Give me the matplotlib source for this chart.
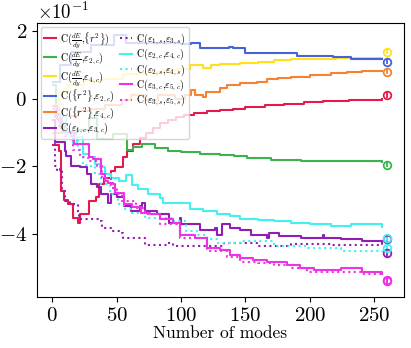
import matplotlib
matplotlib.use("Agg")
import matplotlib.pyplot as plt
import numpy as np

plt.rcParams['font.family'] = 'serif'
plt.rcParams['font.serif'] = ['cmr10', 'DejaVu Serif']
plt.rcParams['mathtext.fontset'] = 'cm'
plt.rcParams['axes.unicode_minus'] = False
plt.rcParams['axes.formatter.use_mathtext'] = True

SCALE = 0.1  # values below are read in units of 10^-1

red_x = [1,5,7,9,12,16,20,22,29,34,36,40,46,49,55,58,63,68,73,78,84,90,96,102,110,120,130,140,150,165,180,195,210,230,245,256]
red_y = [-1.38,-1.53,-2.73,-3.0,-3.1,-3.52,-3.67,-3.41,-3.02,-2.9,-2.52,-2.35,-2.13,-2.03,-1.73,-1.53,-1.35,-1.15,-1.0,-0.85,-0.72,-0.62,-0.55,-0.48,-0.42,-0.37,-0.33,-0.29,-0.25,-0.19,-0.14,-0.1,-0.07,-0.04,-0.02,0.0]

green_x = [1,3,6,10,14,19,25,29,35,38,44,47,58,63,70,80,90,100,115,130,141,151,170,193,220,256]
green_y = [0.4,-0.45,-0.85,-1.0,-1.0,-0.93,-0.93,-0.58,-1.18,-1.2,-1.2,-1.03,-1.5,-1.43,-1.33,-1.45,-1.53,-1.58,-1.63,-1.66,-1.68,-1.75,-1.8,-1.83,-1.84,-1.86]

yellow_x = [1,5,12,25,40,55,72,85,98,107,117,123,130,146,160,172,185,200,220,240,256]
yellow_y = [-0.3,0.2,0.4,0.55,0.6,0.75,0.8,0.85,0.9,1.0,0.91,1.0,1.03,1.07,1.1,1.14,1.17,1.19,1.2,1.21,1.22]

blue_x = [1,6,15,30,48,57,100,108,115,137,140,150,185,190,218,232,256]
blue_y = [0.5,1.0,1.4,1.6,1.88,1.65,1.62,1.65,1.5,1.55,1.5,1.37,1.35,1.27,1.25,1.18,1.18]

orange_x = [1,8,20,30,41,54,61,72,82,95,103,108,111,117,119,130,136,146,159,167,175,185,200,216,229,240,256]
orange_y = [-1.0,-0.5,-0.35,-0.3,-0.19,-0.04,0.11,-0.04,0.11,0.01,0.11,0.26,0.11,0.06,0.21,0.31,0.41,0.46,0.51,0.58,0.62,0.66,0.7,0.76,0.81,0.82,0.84]

purple_x = [1,2,10,11,15,22,27,30,35,38,43,46,50,56,61,68,70,72,81,91,99,100,115,126,128,132,138,146,154,167,168,176,193,210,211,224,240,256]
purple_y = [-0.64,-1.28,-1.53,-1.68,-1.98,-2.03,-2.23,-2.53,-2.6,-2.82,-3.07,-2.82,-2.92,-3.17,-3.32,-3.17,-3.07,-3.32,-3.42,-3.67,-3.52,-3.72,-3.87,-3.82,-4.02,-3.72,-3.82,-3.87,-4.02,-4.12,-3.97,-4.07,-4.12,-4.02,-4.12,-4.14,-4.2,-4.24]

purple_s_x = [1,2,4,6,8,10,14,20,21,36,39,46,52,55,69,72,89,94,107,120,133,159,185,216,256]
purple_s_y = [-0.4,-1.98,-2.13,-2.07,-2.73,-3.02,-3.1,-3.37,-3.57,-3.62,-3.82,-3.92,-3.97,-4.12,-4.12,-4.32,-4.27,-4.37,-4.37,-4.37,-4.27,-4.37,-4.3,-4.32,-4.27]

cyan_x = [1,4,8,11,16,19,24,29,33,37,41,46,52,57,62,67,74,84,86,105,107,117,128,138,146,160,172,185,200,216,232,256]
cyan_y = [-0.2,-0.5,-0.55,-1.03,-1.33,-1.13,-1.63,-1.73,-1.93,-2.03,-2.23,-2.33,-2.42,-2.25,-2.55,-2.68,-2.82,-2.93,-3.07,-3.07,-3.27,-3.32,-3.42,-3.47,-3.57,-3.6,-3.62,-3.67,-3.72,-3.77,-3.72,-3.79]

cyan_s_x = [1,5,10,15,20,24,28,33,38,45,51,56,62,72,94,104,112,120,128,146,172,198,224,256]
cyan_s_y = [-0.3,-0.7,-0.9,-1.2,-1.5,-1.95,-2.0,-2.23,-2.52,-2.82,-3.12,-3.25,-3.37,-3.52,-3.62,-3.92,-4.02,-4.15,-4.27,-4.22,-4.37,-4.42,-4.5,-4.53]

magenta_x = [1,4,8,17,29,32,38,41,43,47,49,56,62,69,76,84,94,99,111,120,130,138,146,156,167,182,192,203,224,240,256]
magenta_y = [-0.2,-0.6,-0.98,-1.33,-1.73,-1.78,-2.23,-2.43,-2.48,-2.53,-2.78,-3.12,-3.2,-3.37,-3.42,-3.57,-3.67,-4.02,-4.12,-4.42,-4.47,-4.62,-4.72,-4.78,-4.82,-4.92,-5.0,-5.07,-5.02,-5.12,-5.19]

magenta_s_x = [1,5,10,16,22,28,35,39,46,50,54,65,72,84,99,120,136,146,160,172,185,198,224,240,256]
magenta_s_y = [-0.3,-0.8,-1.1,-1.5,-1.73,-1.85,-1.98,-2.33,-2.63,-2.82,-3.02,-3.22,-3.42,-3.72,-4.12,-4.52,-4.67,-4.82,-4.87,-4.92,-5.02,-5.12,-5.12,-5.2,-5.22]

labels = [
    r'C($\frac{dE}{dy}$,$\{r^2\}$)',
    r'C($\frac{dE}{dy}$,$\varepsilon_{2,c}$)',
    r'C($\frac{dE}{dy}$,$\varepsilon_{4,c}$)',
    r'C($\{r^2\}$,$\varepsilon_{2,c}$)',
    r'C($\{r^2\}$,$\varepsilon_{4,c}$)',
    r'C($\varepsilon_{1,c}$,$\varepsilon_{3,c}$)',
    r'C($\varepsilon_{1,s}$,$\varepsilon_{3,s}$)',
    r'C($\varepsilon_{2,c}$,$\varepsilon_{4,c}$)',
    r'C($\varepsilon_{2,s}$,$\varepsilon_{4,s}$)',
    r'C($\varepsilon_{3,c}$,$\varepsilon_{5,c}$)',
    r'C($\varepsilon_{3,s}$,$\varepsilon_{5,s}$)',
]

# reference points at the end (order as series)
ref_x = 260
ref_y = [0.11, -1.95, 1.40, 1.10, 0.81, -4.15, -4.57, -4.12, -4.42, -5.36, -5.40]
ref_err = [0.08, 0.07, 0.08, 0.08, 0.08, 0.1, 0.12, 0.1, 0.12, 0.1, 0.1]

series = [(red_x, red_y), (green_x, green_y), (yellow_x, yellow_y), (blue_x, blue_y),
          (orange_x, orange_y), (purple_x, purple_y), (purple_s_x, purple_s_y),
          (cyan_x, cyan_y), (cyan_s_x, cyan_s_y), (magenta_x, magenta_y), (magenta_s_x, magenta_s_y)]
colors = ['#e6194b', '#3cb44b', '#ffe119', '#4363d8', '#f58231', '#911eb4', '#911eb4',
          '#46f0f0', '#46f0f0', '#f032e6', '#f032e6']
styles = ['-', '-', '-', '-', '-', '-', ':', '-', ':', '-', ':']

fig = plt.figure(figsize=(4.11, 3.48), dpi=100)
ax = fig.add_axes([0.0893, 0.1466, 0.8937, 0.7874])

for (xs, ys), c, ls, lab in zip(series, colors, styles, labels):
    ax.plot(xs, np.array(ys) * SCALE, drawstyle='steps-post', color=c, ls=ls, lw=1.5, label=lab)

for y, e, c in zip(ref_y, ref_err, colors):
    ax.errorbar([ref_x], [y * SCALE], yerr=[e * SCALE], fmt='o', mfc='none', mec=c, ecolor=c,
                ms=5.5, mew=1.3, elinewidth=1.3, capsize=0)

ax.ticklabel_format(axis='y', style='sci', scilimits=(0, 0))
ax.set_xticks([0, 50, 100, 150, 200, 250])
ax.set_yticks([-0.4, -0.2, 0.0, 0.2])
ax.tick_params(labelsize=15)
ax.yaxis.get_offset_text().set_fontsize(13.5)
ax.set_xlabel('Number of modes', fontsize=12.5, labelpad=1)

handles, labs = ax.get_legend_handles_labels()
ax.legend(handles, labs, ncol=2, loc='upper left', fontsize=7.2, handlelength=1.2,
          columnspacing=0.6, labelspacing=0.0, borderaxespad=0.4, handletextpad=0.4,
          borderpad=0.3)

fig.savefig('out.png', dpi=100)
